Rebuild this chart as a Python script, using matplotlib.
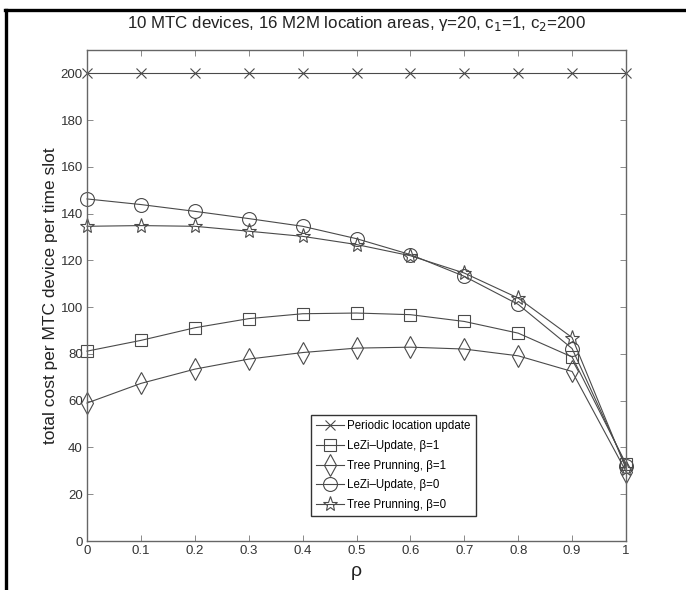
import matplotlib
matplotlib.use("Agg")
import matplotlib.pyplot as plt
from matplotlib.lines import Line2D

plt.rcParams["font.family"] = ["Liberation Sans Narrow", "Liberation Sans", "DejaVu Sans"]

rho = [0.0, 0.1, 0.2, 0.3, 0.4, 0.5, 0.6, 0.7, 0.8, 0.9, 1.0]
periodic = [200] * 11
lezi_b1 = [81.2, 85.8, 91.2, 95.1, 97.2, 97.5, 96.8, 93.9, 88.9, 78.7, 33.0]
tree_b1 = [59.0, 67.4, 73.5, 77.8, 80.6, 82.5, 82.9, 82.1, 79.2, 72.5, 29.7]
lezi_b0 = [146.3, 143.9, 141.0, 137.9, 134.6, 129.3, 122.5, 113.2, 101.2, 82.3, 32.0]
tree_b0 = [134.6, 134.9, 134.6, 132.5, 130.3, 126.8, 122.0, 114.6, 103.9, 87.0, 31.0]

series = [
    ("Periodic location update", periodic, "x", 7),
    ("LeZi\u2013Update, \u03b2=1", lezi_b1, "s", 8),
    ("Tree Prunning, \u03b2=1", tree_b1, "d", 11),
    ("LeZi\u2013Update, \u03b2=0", lezi_b0, "o", 10),
    ("Tree Prunning, \u03b2=0", tree_b0, "*", 11),
]

LINE = "#4a4a4a"

fig = plt.figure(figsize=(6.86, 5.90), dpi=100)
ax = fig.add_axes([87 / 686, 1 - 541 / 590, 539 / 686, 491 / 590])

for label, vals, mk, ms in series:
    ax.plot(rho, vals, color=LINE, lw=0.8, marker=mk, ms=ms, mfc="none",
            mec=LINE, mew=0.8, label=label, clip_on=False)

ax.set_xlim(0, 1)
ax.set_ylim(0, 210)
ax.set_xticks([i / 10 for i in range(11)])
ax.set_xticklabels(["0", "0.1", "0.2", "0.3", "0.4", "0.5", "0.6", "0.7", "0.8", "0.9", "1"])
ax.set_yticks(range(0, 201, 20))
ax.tick_params(direction="in", top=True, right=True, length=4, width=0.6,
               color="#777777", labelsize=9.5, labelcolor="#333333", pad=3)
for s in ax.spines.values():
    s.set_color("#666666")
    s.set_linewidth(1.0)

ax.set_title("10 MTC devices, 16 M2M location areas, \u03b3=20, c$_1$=1, c$_2$=200",
             fontsize=12.2, color="#222222", pad=16)
ax.set_ylabel("total cost per MTC device per time slot", fontsize=12.5,
              family=["Liberation Sans", "DejaVu Sans"], color="#222222", labelpad=2)
ax.set_xlabel("\u03c1", fontsize=14, color="#222222", labelpad=4)

leg = ax.legend(loc="lower left", bbox_to_anchor=(0.415, 0.05), fontsize=8.3,
                frameon=True, fancybox=False, framealpha=1, edgecolor="#333333",
                handlelength=2.4, borderpad=0.45, labelspacing=0.68, handletextpad=0.3,
                borderaxespad=0)
leg.get_frame().set_linewidth(1.0)

# page frame (top and left edges of the cropped box)
fig.add_artist(Line2D([6 / 686, 6 / 686], [0, 1 - 10 / 590], color="black", lw=2.4))
fig.add_artist(Line2D([5 / 686, 1], [1 - 10 / 590, 1 - 10 / 590], color="black", lw=2.4))

fig.savefig("out.png", dpi=100, facecolor="white")
